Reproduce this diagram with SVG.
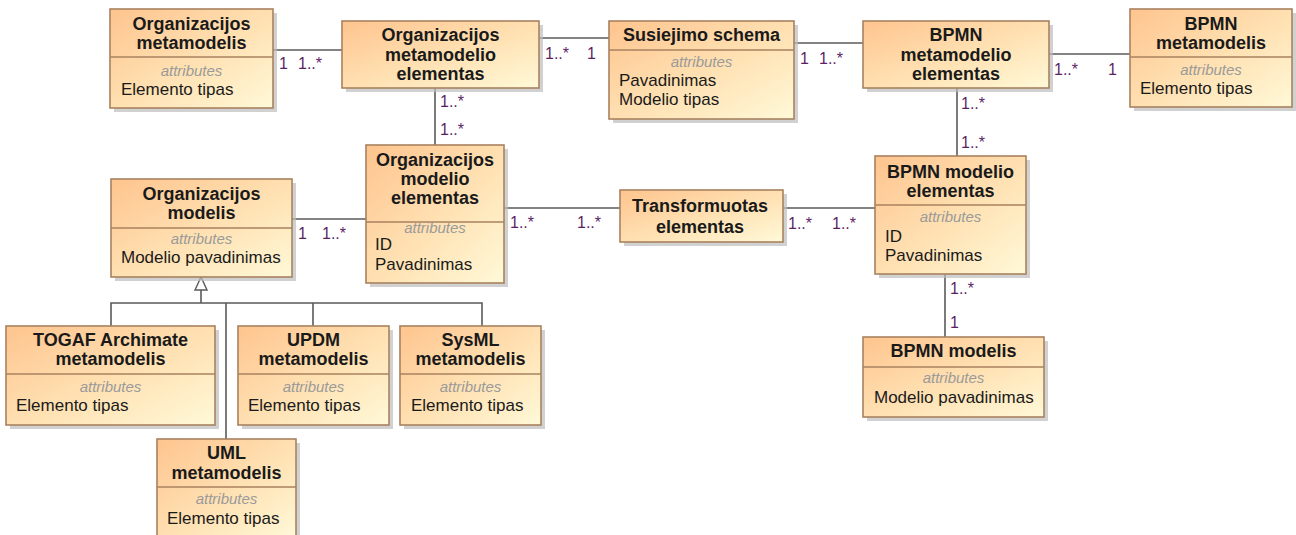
<svg xmlns="http://www.w3.org/2000/svg" width="1296" height="535" viewBox="0 0 1296 535">
  <defs>
    <linearGradient id="classFill" x1="0" y1="0" x2="1" y2="1">
      <stop offset="0" stop-color="#FEC48E"/>
      <stop offset="0.55" stop-color="#FFE2B4"/>
      <stop offset="1" stop-color="#FFF9D8"/>
    </linearGradient>
  </defs>
  <style>
    .shadow { fill: #bdbdbd; opacity: 0.7; }
    .box { fill: url(#classFill); stroke: #A8825F; stroke-width: 1.6; }
    .sep { stroke: #A8825F; stroke-width: 1.4; }
    .title { font-family: "Liberation Sans", Arial, sans-serif; font-size: 18px; font-weight: bold; fill: #1a1a1a; text-anchor: middle; }
    .stereo { font-family: "Liberation Sans", Arial, sans-serif; font-size: 15px; font-style: italic; fill: #9a9a9a; text-anchor: middle; }
    .attr { font-family: "Liberation Sans", Arial, sans-serif; font-size: 17px; fill: #1a1a1a; }
    .edge { stroke: #5a5a5a; stroke-width: 1.6; fill: none; }
    .mult { font-family: "Liberation Sans", Arial, sans-serif; font-size: 16px; fill: #5c1f66; }
    .gen { fill: #ffffff; stroke: #5a5a5a; stroke-width: 1.4; }
  </style>

  <!-- associations and generalization -->
  <g id="connectors">
    <line class="edge" x1="273" y1="50" x2="342" y2="50"/>
    <text class="mult" x="279" y="69">1</text>
    <text class="mult" x="298" y="69">1..*</text>

    <line class="edge" x1="539" y1="38" x2="609" y2="38"/>
    <text class="mult" x="545" y="59">1..*</text>
    <text class="mult" x="587" y="59">1</text>

    <line class="edge" x1="794" y1="43" x2="863" y2="43"/>
    <text class="mult" x="800" y="64">1</text>
    <text class="mult" x="819" y="64">1..*</text>

    <line class="edge" x1="1049" y1="54" x2="1130" y2="54"/>
    <text class="mult" x="1054" y="75">1..*</text>
    <text class="mult" x="1108" y="75">1</text>

    <line class="edge" x1="435" y1="88" x2="435" y2="145"/>
    <text class="mult" x="440" y="107">1..*</text>
    <text class="mult" x="440" y="135">1..*</text>

    <line class="edge" x1="957" y1="88" x2="957" y2="156"/>
    <text class="mult" x="961" y="109">1..*</text>
    <text class="mult" x="961" y="148">1..*</text>

    <line class="edge" x1="292" y1="219" x2="366" y2="219"/>
    <text class="mult" x="298" y="239">1</text>
    <text class="mult" x="322" y="239">1..*</text>

    <line class="edge" x1="504" y1="208" x2="620" y2="208"/>
    <text class="mult" x="510" y="228">1..*</text>
    <text class="mult" x="577" y="228">1..*</text>

    <line class="edge" x1="783" y1="208" x2="875" y2="208"/>
    <text class="mult" x="788" y="229">1..*</text>
    <text class="mult" x="832" y="229">1..*</text>

    <line class="edge" x1="945" y1="274" x2="945" y2="337"/>
    <text class="mult" x="950" y="294">1..*</text>
    <text class="mult" x="950" y="328">1</text>

    <!-- generalization tree -->
    <polyline class="edge" points="111,326 111,303 482,303 482,326"/>
    <line class="edge" x1="201" y1="290" x2="201" y2="303"/>
    <line class="edge" x1="226" y1="303" x2="226" y2="439"/>
    <line class="edge" x1="313" y1="303" x2="313" y2="326"/>
    <polygon class="gen" points="201,277 195,290 207,290"/>
  </g>

  <g id="orgMetamodelis">
    <rect class="shadow" x="114" y="13" width="163" height="99"/>
    <rect class="box" x="110" y="9" width="163" height="99"/>
    <line class="sep" x1="110" y1="57" x2="273" y2="57"/>
    <text class="title" x="191.5" y="30">Organizacijos</text>
    <text class="title" x="191.5" y="49">metamodelis</text>
    <text class="stereo" x="191.5" y="76">attributes</text>
    <text class="attr" x="121" y="95">Elemento tipas</text>
  </g>

  <g id="orgMetamodelioElementas">
    <rect class="shadow" x="346" y="25" width="197" height="67"/>
    <rect class="box" x="342" y="21" width="197" height="67"/>
    <text class="title" x="440.5" y="41">Organizacijos</text>
    <text class="title" x="440.5" y="61">metamodelio</text>
    <text class="title" x="440.5" y="80">elementas</text>
  </g>

  <g id="susiejimoSchema">
    <rect class="shadow" x="613" y="25" width="185" height="98"/>
    <rect class="box" x="609" y="21" width="185" height="98"/>
    <line class="sep" x1="609" y1="50" x2="794" y2="50"/>
    <text class="title" x="701.5" y="41">Susiejimo schema</text>
    <text class="stereo" x="701.5" y="67">attributes</text>
    <text class="attr" x="619" y="86">Pavadinimas</text>
    <text class="attr" x="619" y="105">Modelio tipas</text>
  </g>

  <g id="bpmnMetamodelioElementas">
    <rect class="shadow" x="867" y="25" width="186" height="67"/>
    <rect class="box" x="863" y="21" width="186" height="67"/>
    <text class="title" x="956" y="41">BPMN</text>
    <text class="title" x="956" y="61">metamodelio</text>
    <text class="title" x="956" y="80">elementas</text>
  </g>

  <g id="bpmnMetamodelis">
    <rect class="shadow" x="1134" y="13" width="162" height="98"/>
    <rect class="box" x="1130" y="9" width="162" height="98"/>
    <line class="sep" x1="1130" y1="57" x2="1292" y2="57"/>
    <text class="title" x="1211" y="30">BPMN</text>
    <text class="title" x="1211" y="49">metamodelis</text>
    <text class="stereo" x="1211" y="75">attributes</text>
    <text class="attr" x="1140" y="94">Elemento tipas</text>
  </g>

  <g id="orgModelioElementas">
    <rect class="shadow" x="370" y="149" width="138" height="138"/>
    <rect class="box" x="366" y="145" width="138" height="138"/>
    <line class="sep" x1="366" y1="222" x2="504" y2="222"/>
    <text class="title" x="435" y="166">Organizacijos</text>
    <text class="title" x="435" y="185">modelio</text>
    <text class="title" x="435" y="204">elementas</text>
    <text class="stereo" x="435" y="233">attributes</text>
    <text class="attr" x="375" y="250">ID</text>
    <text class="attr" x="375" y="270">Pavadinimas</text>
  </g>

  <g id="orgModelis">
    <rect class="shadow" x="115" y="183" width="181" height="98"/>
    <rect class="box" x="111" y="179" width="181" height="98"/>
    <line class="sep" x1="111" y1="228" x2="292" y2="228"/>
    <text class="title" x="201.5" y="200">Organizacijos</text>
    <text class="title" x="201.5" y="219">modelis</text>
    <text class="stereo" x="201.5" y="244">attributes</text>
    <text class="attr" x="121" y="263">Modelio pavadinimas</text>
  </g>

  <g id="transformuotasElementas">
    <rect class="shadow" x="624" y="194" width="163" height="52"/>
    <rect class="box" x="620" y="190" width="163" height="52"/>
    <text class="title" x="700" y="212">Transformuotas</text>
    <text class="title" x="700" y="233">elementas</text>
  </g>

  <g id="bpmnModelioElementas">
    <rect class="shadow" x="879" y="160" width="151" height="118"/>
    <rect class="box" x="875" y="156" width="151" height="118"/>
    <line class="sep" x1="875" y1="205" x2="1026" y2="205"/>
    <text class="title" x="950.5" y="178">BPMN modelio</text>
    <text class="title" x="950.5" y="197">elementas</text>
    <text class="stereo" x="950.5" y="222">attributes</text>
    <text class="attr" x="885" y="242">ID</text>
    <text class="attr" x="885" y="261">Pavadinimas</text>
  </g>

  <g id="bpmnModelis">
    <rect class="shadow" x="867" y="341" width="181" height="80"/>
    <rect class="box" x="863" y="337" width="181" height="80"/>
    <line class="sep" x1="863" y1="367" x2="1044" y2="367"/>
    <text class="title" x="953.5" y="357">BPMN modelis</text>
    <text class="stereo" x="953.5" y="383">attributes</text>
    <text class="attr" x="874" y="403">Modelio pavadinimas</text>
  </g>

  <g id="togafArchimateMetamodelis">
    <rect class="shadow" x="10" y="330" width="209" height="99"/>
    <rect class="box" x="6" y="326" width="209" height="99"/>
    <line class="sep" x1="6" y1="374" x2="215" y2="374"/>
    <text class="title" x="110.5" y="346">TOGAF Archimate</text>
    <text class="title" x="110.5" y="365">metamodelis</text>
    <text class="stereo" x="110.5" y="392">attributes</text>
    <text class="attr" x="16" y="411">Elemento tipas</text>
  </g>

  <g id="updmMetamodelis">
    <rect class="shadow" x="242" y="330" width="151" height="99"/>
    <rect class="box" x="238" y="326" width="151" height="99"/>
    <line class="sep" x1="238" y1="374" x2="389" y2="374"/>
    <text class="title" x="313.5" y="346">UPDM</text>
    <text class="title" x="313.5" y="365">metamodelis</text>
    <text class="stereo" x="313.5" y="392">attributes</text>
    <text class="attr" x="248" y="411">Elemento tipas</text>
  </g>

  <g id="sysmlMetamodelis">
    <rect class="shadow" x="404" y="330" width="141" height="99"/>
    <rect class="box" x="400" y="326" width="141" height="99"/>
    <line class="sep" x1="400" y1="374" x2="541" y2="374"/>
    <text class="title" x="470.5" y="346">SysML</text>
    <text class="title" x="470.5" y="365">metamodelis</text>
    <text class="stereo" x="470.5" y="392">attributes</text>
    <text class="attr" x="411" y="411">Elemento tipas</text>
  </g>

  <g id="umlMetamodelis">
    <rect class="shadow" x="161" y="443" width="139" height="100"/>
    <rect class="box" x="157" y="439" width="139" height="100"/>
    <line class="sep" x1="157" y1="487" x2="296" y2="487"/>
    <text class="title" x="226.5" y="459">UML</text>
    <text class="title" x="226.5" y="479">metamodelis</text>
    <text class="stereo" x="226.5" y="504">attributes</text>
    <text class="attr" x="167" y="524">Elemento tipas</text>
  </g>
</svg>
